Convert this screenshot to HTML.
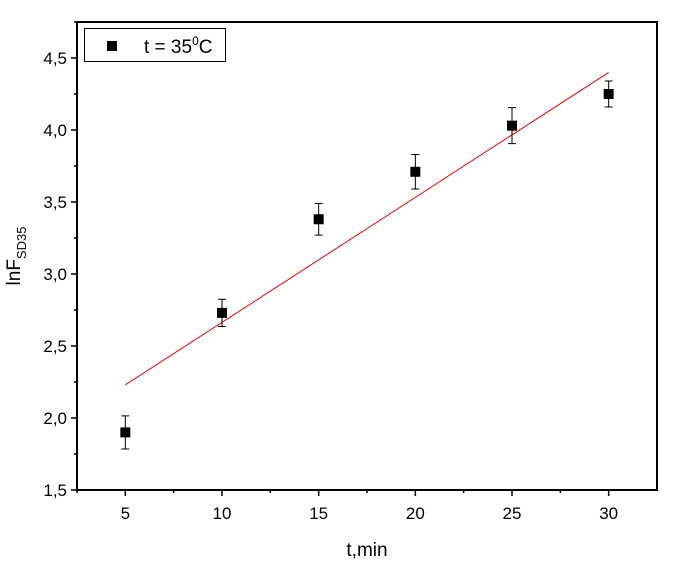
<!DOCTYPE html>
<html><head><meta charset="utf-8"><style>
body{margin:0;background:#fff;}
svg text{font-family:"Liberation Sans",Arial,sans-serif;fill:#000;}
</style></head><body>
<svg id="chart" width="674" height="566" xmlns="http://www.w3.org/2000/svg">
<g id="g"></g>
<g>
<rect x="84.5" y="28.5" width="141" height="33" fill="#fff" stroke="#000" stroke-width="1"/>
<rect x="107" y="41" width="10" height="10" fill="#000"/>
<text x="144" y="53" font-size="19">t = 35<tspan dy="-8" font-size="12">0</tspan><tspan dy="8">C</tspan></text>
</g>
<text x="367" y="556" font-size="19" text-anchor="middle">t,min</text>
<text transform="translate(20,256) rotate(-90)" font-size="19" text-anchor="middle">lnF<tspan dy="6" font-size="13">SD35</tspan></text>
</svg>
<script>
const categories=[5,10,15,20,25,30];
const values=[1.90,2.73,3.38,3.71,4.03,4.25];
const errors=[0.115,0.095,0.11,0.12,0.125,0.09];
const fitStart=[5,2.23];
const fitEnd=[30,4.40];
const xTicks=[5,10,15,20,25,30];
const yTicks=[1.5,2.0,2.5,3.0,3.5,4.0,4.5];
const yTickLabels=["1,5","2,0","2,5","3,0","3,5","4,0","4,5"];

const L=77,R=657,T=22,B=490,x0=2.5,x1=32.5,y0=1.5,y1=4.75;
const X=v=>L+(v-x0)/(x1-x0)*(R-L);
const Y=v=>B-(v-y0)/(y1-y0)*(B-T);
const g=document.getElementById('g');
const NS='http://www.w3.org/2000/svg';
function mk(t,a,p){const e=document.createElementNS(NS,t);for(const k in a)e.setAttribute(k,a[k]);(p||g).appendChild(e);return e;}

let f=mk('rect',{x:L,y:T,width:R-L,height:B-T,fill:'none',stroke:'#000','stroke-width':2});



xTicks.forEach((v,i)=>{
  let t=mk('line',{x1:X(v),x2:X(v),y1:B,y2:B+6,stroke:'#000','stroke-width':1.5});
  
  
  let m=mk('line',{x1:X(v-2.5),x2:X(v-2.5),y1:B,y2:B+3,stroke:'#000','stroke-width':1.5});
  
  
  let l=mk('text',{x:X(v),y:B+29,'font-size':17,'text-anchor':'middle'});l.textContent=v;
  
  
});
yTicks.forEach((v,i)=>{
  let t=mk('line',{x1:L-6,x2:L,y1:Y(v),y2:Y(v),stroke:'#000','stroke-width':1.5});
  
  
  if(v+0.25<=y1){let m=mk('line',{x1:L-3,x2:L,y1:Y(v+0.25),y2:Y(v+0.25),stroke:'#000','stroke-width':1.5});
  
  }
  let l=mk('text',{x:L-10,y:Y(v)+6,'font-size':17,'text-anchor':'end'});l.textContent=yTickLabels[i];
  
  
});

let fit=mk('line',{x1:X(fitStart[0]),y1:Y(fitStart[1]),x2:X(fitEnd[0]),y2:Y(fitEnd[1]),stroke:'#e00000','stroke-width':1});



categories.forEach((c,i)=>{
  const cx=X(c),cy=Y(values[i]),yt=Y(values[i]+errors[i]),yb=Y(values[i]-errors[i]);
  let e=mk('path',{d:`M${cx-4},${yt}H${cx+4}M${cx},${yt}V${yb}M${cx-4},${yb}H${cx+4}`,stroke:'#000','stroke-width':1,fill:'none'});
  
  
  let p=mk('rect',{x:cx-5,y:cy-5,width:10,height:10,fill:'#000'});
  
  
});
</script>
</body></html>
